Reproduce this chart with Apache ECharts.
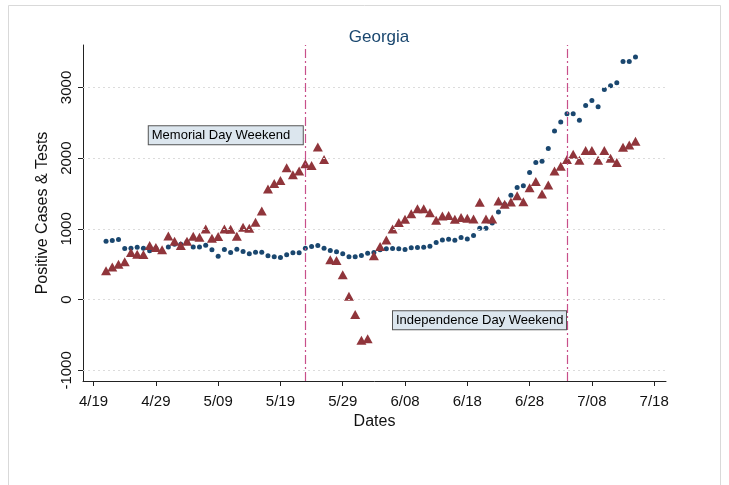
<!DOCTYPE html>
<html>
<head>
<meta charset="utf-8">
<script src="https://cdn.jsdelivr.net/npm/echarts@6/dist/echarts.min.js"></script>
<style>html,body{margin:0;padding:0;background:#fff;}#c{width:729px;height:485px;}</style>
</head>
<body>
<div id="c"></div>
<script>
// Day offsets from 4/19 (day 0); first observation is 4/21 (day 2)
const startDay = 2;
const tests = [826, 835, 850, 723, 728, 742, 728, 690, 728, 680, 746, 784, 784, 817, 746, 746, 770, 704, 615, 709,
  666, 714, 680, 648, 671, 671, 620, 606, 596, 634, 662, 662, 728, 751, 765, 728, 695, 676, 648, 606,
  606, 624, 657, 666, 704, 718, 723, 718, 709, 732, 737, 742, 756, 807, 845, 855, 840, 878, 859, 906,
  1010, 1010, 1085, 1240, 1350, 1475, 1585, 1610, 1798, 1939, 1958, 2136, 2385, 2512, 2629, 2629, 2535, 2746, 2817, 2728,
  2972, 3023, 3066, 3366, 3366, 3432];
const cases = [408, 460, 500, 535, 666, 643, 638, 765, 737, 704, 901, 826, 765, 826, 897, 883, 1000, 869, 892, 1000,
  996, 897, 1024, 1010, 1094, 1254, 1563, 1643, 1686, 1864, 1765, 1817, 1920, 1897, 2159, 1982, 563, 554, 352, 47,
  -211, -573, -554, 620, 751, 845, 1000, 1089, 1136, 1215, 1286, 1286, 1230, 1122, 1183, 1188, 1136, 1160, 1150, 1141,
  1376, 1141, 1141, 1394, 1350, 1380, 1470, 1385, 1582, 1672, 1493, 1620, 1817, 1887, 1982, 2056, 1972, 2108, 2108, 1972,
  2108, 2000, 1939, 2155, 2188, 2239];
const xTickValues = [0, 10, 20, 30, 40, 50, 60, 70, 80, 90];
const xTickLabels = ['4/19', '4/29', '5/09', '5/19', '5/29', '6/08', '6/18', '6/28', '7/08', '7/18'];
const yTickValues = [-1000, 0, 1000, 2000, 3000];
const eventDays = [34, 76];
const eventLabels = ['Memorial Day Weekend', 'Independence Day Weekend'];

const testPts = tests.map((v, i) => [startDay + i, v]);
const casePts = cases.map((v, i) => [startDay + i, v]);

const font = 'Liberation Sans, Arial, sans-serif';
const evColor = '#c8508a';
const chart = echarts.init(document.getElementById('c'));
chart.setOption({
  animation: false,
  backgroundColor: '#fff',
  title: {
    text: 'Georgia', left: 374, top: 24, textAlign: 'center',
    textStyle: { fontFamily: font, fontSize: 17, fontWeight: 'normal', color: '#1a476f' }
  },
  graphic: [{
    type: 'rect', shape: { x: 8.5, y: 5.5, width: 712, height: 500 },
    style: { fill: 'none', stroke: '#d9d9d9', lineWidth: 1 }, silent: true, z: -1
  }],
  grid: { left: 83, right: 63, top: 45, bottom: 104 },
  xAxis: {
    type: 'value', min: -1.7, max: 91.9,
    name: 'Dates', nameLocation: 'middle', nameGap: 33,
    nameTextStyle: { fontFamily: font, fontSize: 16, color: '#111' },
    axisLine: { show: true, onZero: false, lineStyle: { color: '#222', width: 1 } },
    axisTick: { show: true, customValues: xTickValues, length: 5, lineStyle: { color: '#222' } },
    axisLabel: {
      customValues: xTickValues, margin: 13, fontFamily: font, fontSize: 15, color: '#111',
      formatter: v => xTickLabels[xTickValues.indexOf(Math.round(v))] || ''
    },
    splitLine: { show: false }
  },
  yAxis: {
    type: 'value', min: -1150, max: 3600,
    name: 'Positive Cases & Tests', nameLocation: 'middle', nameGap: 32,
    nameTextStyle: { fontFamily: font, fontSize: 16, color: '#111' },
    axisLine: { show: true, onZero: false, lineStyle: { color: '#222', width: 1 } },
    axisTick: { show: true, customValues: yTickValues, length: 5, lineStyle: { color: '#222' } },
    axisLabel: {
      customValues: yTickValues, rotate: 90, margin: 9, fontFamily: font, fontSize: 15, color: '#111',
      formatter: v => String(Math.round(v))
    },
    splitLine: { show: false }
  },
  series: [
    {
      name: 'grid', type: 'line', data: [], silent: true,
      markLine: {
        silent: true, symbol: 'none', label: { show: false },
        lineStyle: { color: '#dcdcdc', type: [2, 3], width: 1 },
        data: yTickValues.map(v => ({ yAxis: v, lineStyle: { color: '#dcdcdc', type: [2, 3], width: 1 } }))
      }
    },
    {
      name: 'events', type: 'line', data: [], silent: true,
      itemStyle: { color: evColor }, lineStyle: { color: evColor },
      markLine: {
        silent: true, symbol: 'none', label: { show: false },
        itemStyle: { color: evColor },
        lineStyle: { color: evColor, type: [9, 3, 2, 3], width: 1.2, opacity: 1 },
        emphasis: { disabled: true },
        data: eventDays.map(d => ({ xAxis: d }))
      }
    },
    {
      name: 'Tests', type: 'scatter', data: testPts, symbol: 'circle', symbolSize: 5,
      itemStyle: { color: '#1a476f', opacity: 1 }, z: 3
    },
    {
      name: 'Positive Cases', type: 'scatter', data: casePts, symbol: 'triangle', symbolSize: [10, 9],
      itemStyle: { color: '#90353b', opacity: 1 }, z: 4,
      markPoint: {
        symbol: 'rect', symbolSize: 0, silent: true,
        data: [
          { coord: [8.86, 2325], label: { width: 150, padding: [2, 1, 2, 3] } },
          { coord: [48.07, -290], label: { width: 168, padding: [2, 2, 2, 3] } }
        ].map((o, i) => ({
          coord: o.coord,
          label: Object.assign({
            show: true, position: 'right', distance: 0, formatter: eventLabels[i],
            fontFamily: font, fontSize: 13, lineHeight: 14, color: '#000',
            backgroundColor: '#dce6ee', borderColor: '#555', borderWidth: 1
          }, o.label)
        }))
      }
    }
  ]
});
</script>
</body>
</html>
